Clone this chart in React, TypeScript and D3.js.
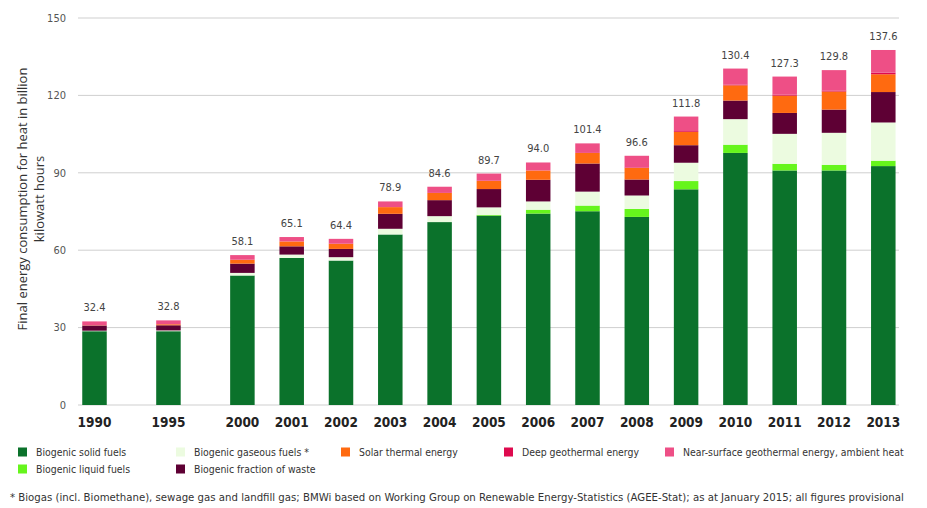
import React from "react";
import * as d3 from "d3";

const years = ["1990", "1995", "2000", "2001", "2002", "2003", "2004", "2005", "2006", "2007", "2008", "2009", "2010", "2011", "2012", "2013"];
const slots = [0, 1.5, 3, 4, 5, 6, 7, 8, 9, 10, 11, 12, 13, 14, 15, 16];

const solidFuels = [28.6, 28.6, 50.2, 57.0, 56.0, 66.1, 70.9, 73.4, 74.2, 75.1, 72.9, 83.6, 97.7, 90.9, 90.9, 92.6];
const liquidFuels = [0, 0, 0, 0, 0, 0, 0, 0.3, 1.5, 2.2, 3.1, 3.2, 3.2, 2.6, 2.2, 2.1];
const gaseousFuels = [0.2, 0.3, 1.0, 1.3, 1.3, 2.2, 2.3, 2.9, 3.2, 5.4, 5.2, 7.1, 9.9, 11.6, 12.4, 14.8];
const wasteFraction = [2.0, 2.0, 3.6, 3.2, 3.2, 5.8, 6.2, 7.1, 8.4, 10.9, 6.2, 6.8, 7.2, 8.1, 9.0, 11.8];
const solarThermal = [0.1, 0.4, 1.5, 1.9, 2.0, 2.6, 2.8, 3.2, 3.6, 4.1, 4.5, 5.2, 5.9, 6.7, 7.0, 6.9];
const deepGeothermal = [0, 0, 0, 0, 0, 0, 0, 0, 0, 0, 0.2, 0.3, 0.3, 0.4, 0.4, 0.6];
const nearSurface = [1.5, 1.5, 1.8, 1.7, 1.9, 2.2, 2.4, 2.8, 3.1, 3.7, 4.5, 5.6, 6.2, 7.0, 7.9, 8.8];

const totalLabels = ["32.4", "32.8", "58.1", "65.1", "64.4", "78.9", "84.6", "89.7", "94.0", "101.4", "96.6", "111.8", "130.4", "127.3", "129.8", "137.6"];
const yTicks = [0, 30, 60, 90, 120, 150];

const seriesKeys = ["solid", "liquid", "gaseous", "waste", "solar", "deep", "near"];
const seriesNames = [
  "Biogenic solid fuels",
  "Biogenic liquid fuels",
  "Biogenic gaseous fuels *",
  "Biogenic fraction of waste",
  "Solar thermal energy",
  "Deep geothermal energy",
  "Near-surface geothermal energy, ambient heat",
];
const seriesColors = ["#0b722b", "#66f51c", "#ecfbe0", "#5e0034", "#ff6a10", "#de0a4e", "#ee4f86"];

const footnote =
  "* Biogas (incl. Biomethane), sewage gas and landfill gas; BMWi based on Working Group on Renewable Energy-Statistics (AGEE-Stat); as at January 2015; all figures provisional";

const rows = years.map((y, i) => ({
  year: y,
  slot: slots[i],
  solid: solidFuels[i],
  liquid: liquidFuels[i],
  gaseous: gaseousFuels[i],
  waste: wasteFraction[i],
  solar: solarThermal[i],
  deep: deepGeothermal[i],
  near: nearSurface[i],
}));

const narrow = "'DejaVu Sans Condensed', 'Open Sans', sans-serif";

export default function App() {
  const W = 927;
  const H = 508;
  const x = d3.scaleLinear().domain([0, 16]).range([94.5, 883.3]);
  const y = d3.scaleLinear().domain([0, 150]).range([405, 18]);
  const barW = 24.5;
  const stacked = d3.stack<any>().keys(seriesKeys)(rows as any);

  const legendPos = [
    [0, 0],
    [1, 0],
    [0, 1],
    [1, 1],
    [0, 2],
    [0, 3],
    [0, 4],
  ];
  const colX = [18, 176, 341, 504, 665];
  const rowY = [452, 469];

  return (
    <svg width={W} height={H} style={{ position: "absolute", left: 0, top: 0, background: "#fff" }}>
      {yTicks.map((t) => (
        <g key={t}>
          <line x1={78} x2={899} y1={y(t)} y2={y(t)} stroke="#cfcfcf" strokeWidth={1} />
          <text x={66} y={y(t)} dy="0.35em" textAnchor="end" fontSize={11} fill="#555" fontFamily={narrow}>
            {t}
          </text>
        </g>
      ))}
      {stacked.map((s, si) => (
        <g key={s.key} fill={seriesColors[si]}>
          {s.map((d: any, i: number) =>
            d[1] - d[0] > 0 ? (
              <rect key={i} x={x(rows[i].slot) - barW / 2} width={barW} y={y(d[1])} height={y(d[0]) - y(d[1])} />
            ) : null
          )}
        </g>
      ))}
      {rows.map((r, i) => {
        const top = stacked[stacked.length - 1][i][1];
        return (
          <g key={r.year}>
            <text x={x(r.slot)} y={y(top) - 10} textAnchor="middle" fontSize={11} fill="#444" fontFamily={narrow}>
              {totalLabels[i]}
            </text>
            <text x={x(r.slot)} y={427} textAnchor="middle" fontSize={13.5} fontWeight="bold" fill="#222" fontFamily={narrow}>
              {r.year}
            </text>
          </g>
        );
      })}
      <g transform="translate(22,199) rotate(-90)">
        <text textAnchor="middle" dominantBaseline="central" fontSize={13} fill="#333" fontFamily="'Open Sans', sans-serif">
          Final energy consumption for heat in billion
        </text>
      </g>
      <g transform="translate(39,199) rotate(-90)">
        <text textAnchor="middle" dominantBaseline="central" fontSize={13} fill="#333" fontFamily="'Open Sans', sans-serif">
          kilowatt hours
        </text>
      </g>
      {seriesNames.map((n, i) => {
        const [r, c] = legendPos[i];
        return (
          <g key={n} transform={`translate(${colX[c]},${rowY[r]})`}>
            <rect x={0} y={-4.5} width={9} height={9} fill={seriesColors[i]} />
            <text x={18} y={0} dy="0.35em" fontSize={10.4} fill="#333" fontFamily={narrow}>
              {n}
            </text>
          </g>
        );
      })}
      <text x={10} y={501} fontSize={11.3} fill="#333" fontFamily={narrow}>
        {footnote}
      </text>
    </svg>
  );
}
